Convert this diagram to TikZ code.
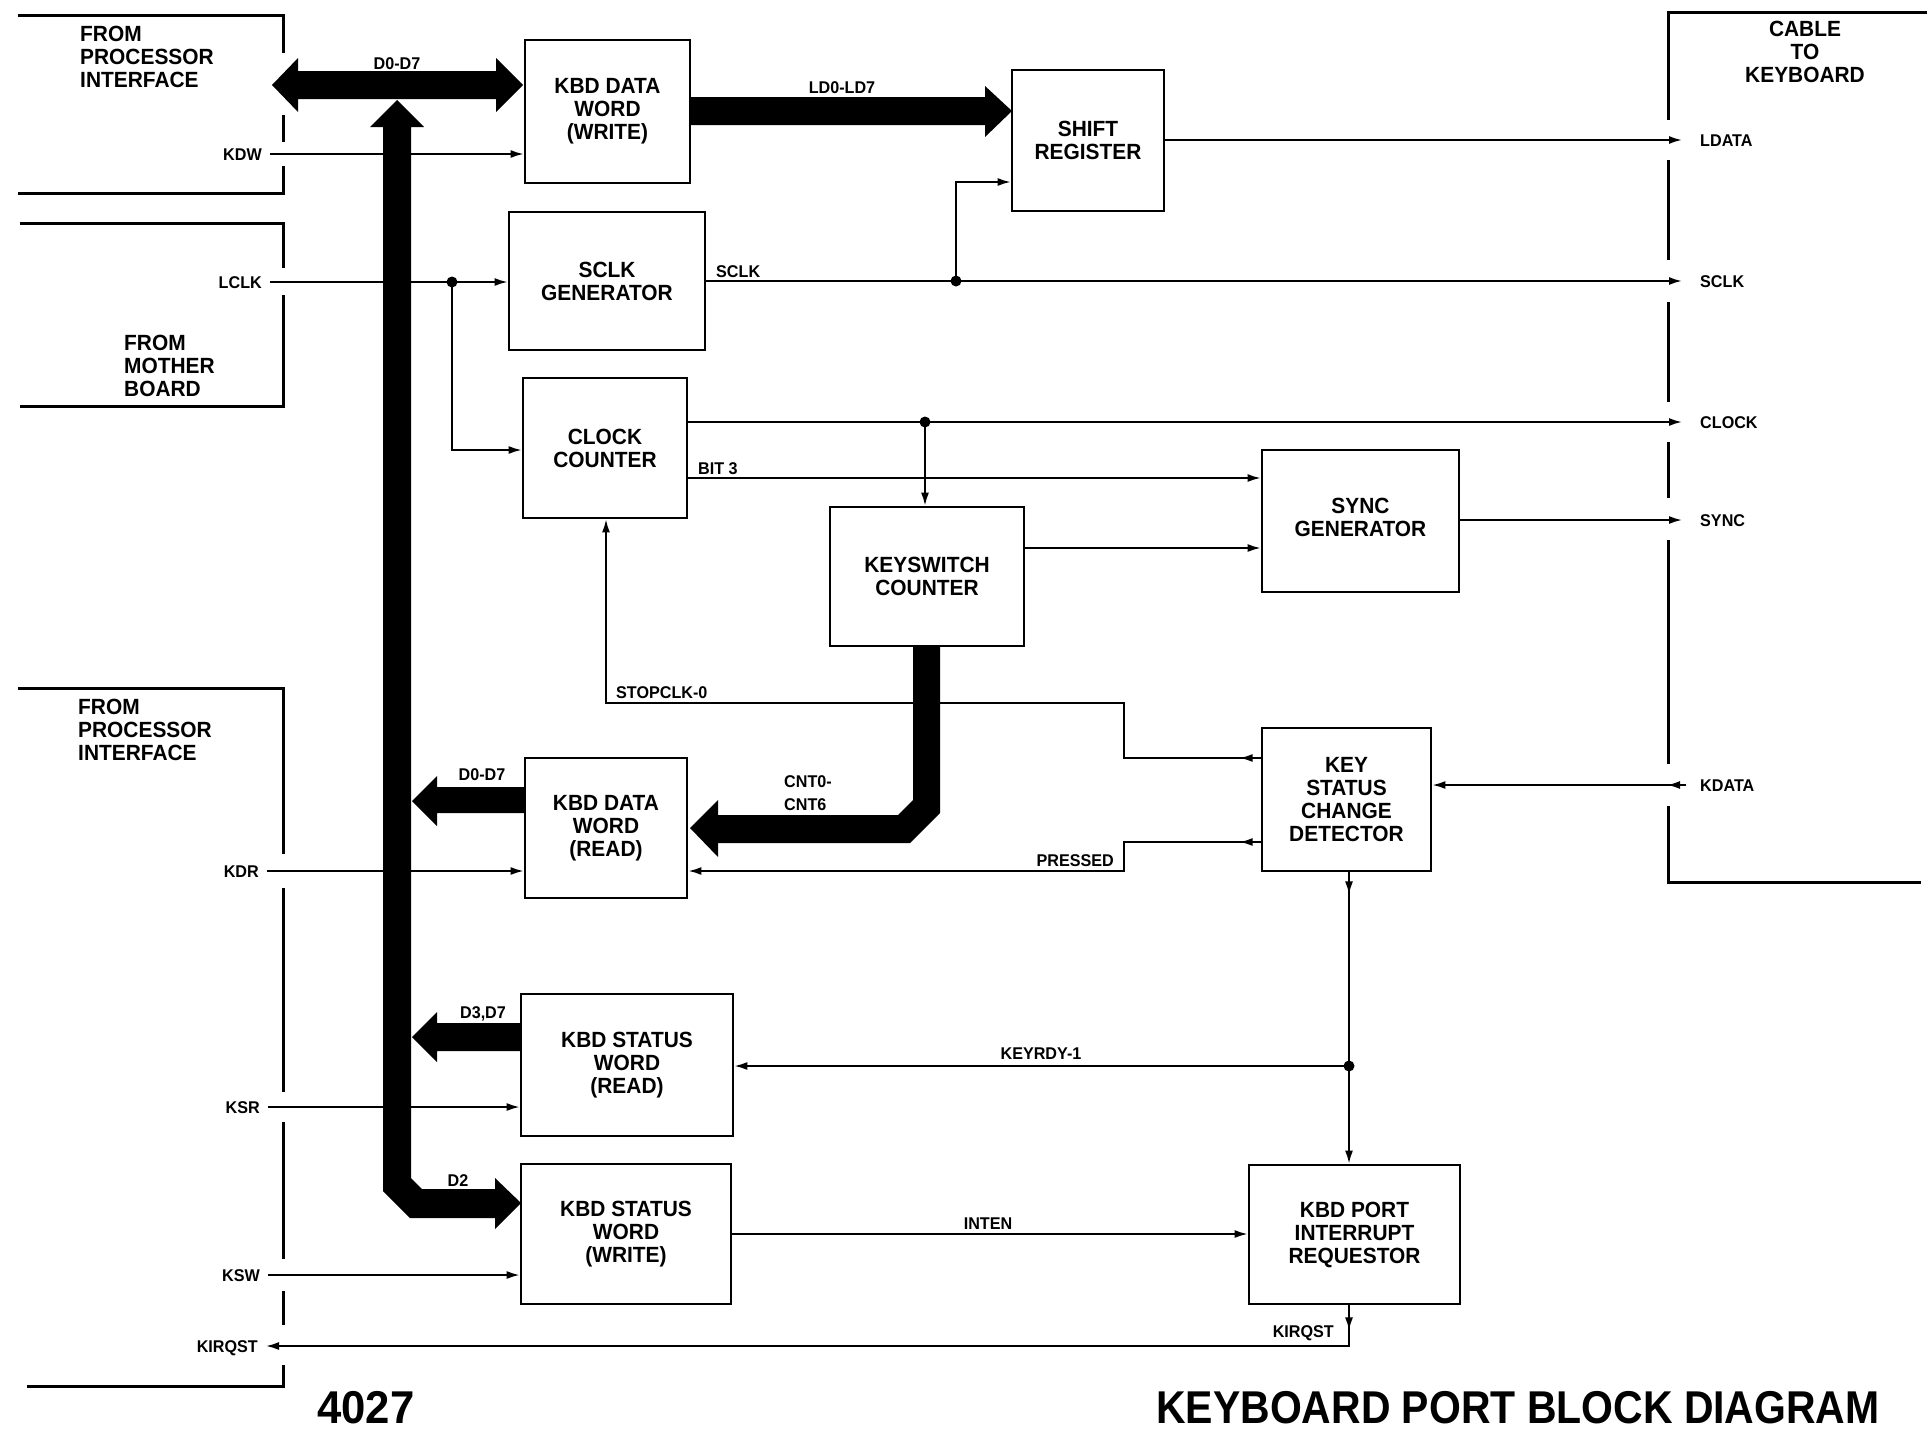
\documentclass[tikz,border=0pt]{standalone}
\usepackage{fontspec}
\setmainfont{Liberation Sans}[FakeStretch=0.95]
\newfontfamily\condfont{Liberation Sans}[FakeStretch=0.89]
\usetikzlibrary{arrows.meta}
\newcommand\boxfont{\fontsize{22}{23}\selectfont\bfseries}
\newcommand\labfont{\fontsize{17}{18}\selectfont\bfseries}
\newcommand\titlefont{\fontsize{46}{50}\selectfont\bfseries}
\newcommand\titlefontc{\condfont\fontsize{46}{50}\selectfont\bfseries}
\begin{document}
\begin{tikzpicture}[x=1pt,y=-1pt,
  blk/.style={draw, line width=2.8pt, align=center, font=\boxfont, inner sep=0pt},
  sig/.style={line width=1.8pt},
  arr/.style={sig, -{Latex[length=13pt,width=8pt]}},
  brk/.style={line width=3pt},
  lab/.style={font=\labfont, inner sep=0pt, text height=12pt, text depth=0pt},
  txt/.style={font=\boxfont, inner sep=0pt, align=left},
  dot/.style={circle, fill=black, inner sep=0pt, minimum size=11pt}
]
\useasboundingbox (0,0) rectangle (1927,1432);
\fill[white] (0,0) rectangle (1927,1432);

% ---------- brackets ----------
\draw[brk] (18,15) -- (283,15) -- (283,53);
\draw[brk] (283,115) -- (283,142);
\draw[brk] (283,166) -- (283,193) -- (18,193);
\draw[brk] (20,223) -- (283,223) -- (283,268);
\draw[brk] (283,295) -- (283,406) -- (20,406);
\draw[brk] (18,688) -- (283,688) -- (283,854);
\draw[brk] (283,888) -- (283,1092);
\draw[brk] (283,1122) -- (283,1259);
\draw[brk] (283,1291) -- (283,1325);
\draw[brk] (283,1365) -- (283,1386) -- (27,1386);
\draw[brk] (1927,12) -- (1668,12) -- (1668,120);
\draw[brk] (1668,160) -- (1668,260);
\draw[brk] (1668,302) -- (1668,402);
\draw[brk] (1668,442) -- (1668,498);
\draw[brk] (1668,540) -- (1668,764);
\draw[brk] (1668,806) -- (1668,882) -- (1921,882);

\node[txt, anchor=west] (tpi1) at (80,57) {FROM\\PROCESSOR\\INTERFACE};
\node[txt, anchor=west] (tmb) at (124,366) {FROM\\MOTHER\\BOARD};
\node[txt, anchor=west] (tpi2) at (78,730) {FROM\\PROCESSOR\\INTERFACE};
\node[txt, align=center] (tck) at (1805,52) {CABLE\\TO\\KEYBOARD};

% ---------- blocks ----------
\node[blk, minimum width=165pt, minimum height=143pt] (wbox) at (607.5,111.5) {KBD DATA\\WORD\\(WRITE)};
\node[blk, minimum width=152pt, minimum height=141pt] (sr) at (1088,140.5) {SHIFT\\REGISTER};
\node[blk, minimum width=196pt, minimum height=138pt] (sg) at (607,281) {SCLK\\GENERATOR};
\node[blk, minimum width=164pt, minimum height=140pt] (cc) at (605,448) {CLOCK\\COUNTER};
\node[blk, minimum width=197pt, minimum height=142pt] (syn) at (1360.5,521) {};
\node[txt, align=center] (syntxt) at ([yshift=4pt]syn.center) {SYNC\\GENERATOR};
\node[blk, minimum width=194pt, minimum height=139pt] (ks) at (927,576.5) {KEYSWITCH\\COUNTER};
\node[blk, minimum width=169pt, minimum height=143pt] (det) at (1346.5,799.5) {KEY\\STATUS\\CHANGE\\DETECTOR};
\node[blk, minimum width=162pt, minimum height=140pt] (rbox) at (606,828) {KBD DATA\\WORD\\(READ)};
\node[blk, minimum width=212pt, minimum height=142pt] (sr2) at (627,1065) {KBD STATUS\\WORD\\(READ)};
\node[blk, minimum width=210pt, minimum height=140pt] (sw) at (626,1234) {KBD STATUS\\WORD\\(WRITE)};
\node[blk, minimum width=211pt, minimum height=139pt] (port) at (1354.5,1234.5) {KBD PORT\\INTERRUPT\\REQUESTOR};

% ---------- left labels and inputs ----------
\node[lab, anchor=east] (lkdw) at (262,154) {KDW};
\node[lab, anchor=east] (llclk) at (262,282) {LCLK};
\node[lab, anchor=east] (lkdr) at (259,871) {KDR};
\node[lab, anchor=east] (lksr) at (260,1107) {KSR};
\node[lab, anchor=east] (lksw) at (260,1275) {KSW};
\node[lab, anchor=east] (lkirq) at (258,1346) {KIRQST};

\draw[arr] ([xshift=8pt]lkdw.east) -- (wbox.west |- lkdw.east);
\draw[arr] ([xshift=8pt]llclk.east) -- (sg.west |- llclk.east);
\draw[arr] ([xshift=8pt]lkdr.east) -- (rbox.west |- lkdr.east);
\draw[arr] ([xshift=8pt]lksr.east) -- (sr2.west |- lksr.east);
\draw[arr] ([xshift=8pt]lksw.east) -- (sw.west |- lksw.east);

% ---------- right labels ----------
\node[lab, anchor=west] (rldata) at (1700,140) {LDATA};
\node[lab, anchor=west] (rsclk) at (1700,281) {SCLK};
\node[lab, anchor=west] (rclock) at (1700,422) {CLOCK};
\node[lab, anchor=west] (rsync) at (1700,520) {SYNC};
\node[lab, anchor=west] (rkdata) at (1700,785) {KDATA};
\coordinate (tldata) at (1682,140);
\coordinate (tsclk) at (1682,281);
\coordinate (tclock) at (1682,422);
\coordinate (tsync) at (1682,520);
\coordinate (kdin) at (1686,785);

% ---------- internal signals ----------
\node[dot] (d1) at (452,282) {};
\draw[arr] (d1.center) -- (452,450) -- (cc.west |- 0,450);

\draw[arr] (sr.east |- tldata) -- (tldata);
\draw[arr] (sg.east |- tsclk) -- (tsclk);
\node[dot] (d2) at (956,281) {};
\draw[arr] (d2.center) -- (956,182) -- (sr.west |- 0,182);
\node[lab, anchor=west] (lsclk) at (716,271) {SCLK};

\draw[arr] (cc.east |- tclock) -- (tclock);
\node[dot] (d3) at (925,422) {};
\draw[arr] (d3.center) -- (ks.north -| d3);

\draw[arr] (cc.east |- 0,478) -- (syn.west |- 0,478);
\node[lab, anchor=west] (lbit) at (698,468) {BIT 3};
\draw[arr] (ks.east |- 0,548) -- (syn.west |- 0,548);
\draw[arr] (syn.east |- tsync) -- (tsync);

\draw[arr] (det.west |- 0,758) -- (1124,758) -- (1124,703) -- (606,703) -- (cc.south -| 606,0);
\draw[arr] (det.west |- 0,758) -- ++(-21,0);
\node[lab, anchor=west] (lstop) at (616,692) {STOPCLK-0};

\draw[arr] (det.west |- 0,842) -- (1124,842) -- (1124,871) -- (rbox.east |- 0,871);
\draw[arr] (det.west |- 0,842) -- ++(-21,0);
\node[lab, anchor=east] (lpress) at (1114,860) {PRESSED};

\draw[arr] (kdin) -- (det.east |- kdin);
\draw[arr] (kdin) -- (1667,785);

\node[dot] (d4) at (1349,1066) {};
\draw[arr] (det.south -| d4) -- (port.north -| d4);
\draw[arr] (det.south -| d4) -- ++(0,22);
\draw[arr] (d4.center) -- (sr2.east |- d4);
\node[lab] (lkeyrdy) at (1041,1053) {KEYRDY-1};

\draw[arr] (sw.east |- 0,1234) -- (port.west |- 0,1234);
\node[lab] (linten) at (988,1223) {INTEN};

\draw[arr] (port.south -| d4) -- (1349,1346) -- ([xshift=8pt]lkirq.east);
\draw[arr] (port.south -| d4) -- ++(0,25);
\node[lab, anchor=east] (lkirq2) at (1334,1331) {KIRQST};

% ---------- buses ----------
\fill (272,85) -- (298,58) -- (298,71) -- (496,71) -- (496,58) -- (523,85) -- (496,112) -- (496,99) -- (298,99) -- (298,112) -- cycle;
\fill (397,100) -- (424,127) -- (411,127) -- (411,1178) -- (422,1189) -- (495,1189) -- (495,1178) -- (521,1203) -- (495,1229) -- (495,1218) -- (410,1218) -- (383,1191) -- (383,127) -- (370,127) -- cycle;
\fill (690,97) -- (985,97) -- (985,86) -- (1012,111) -- (985,137) -- (985,125) -- (690,125) -- cycle;
\fill (525,787) -- (437,787) -- (437,776) -- (412,801) -- (437,826) -- (437,813) -- (525,813) -- cycle;
\fill (521,1023) -- (437,1023) -- (437,1012) -- (412,1037) -- (437,1062) -- (437,1051) -- (521,1051) -- cycle;
\fill (913,646) -- (940,646) -- (940,813) -- (910,843) -- (718,843) -- (718,857) -- (690,828) -- (718,800) -- (718,815) -- (898,815) -- (913,800) -- cycle;

\node[lab] (lbus1) at (397,63) {D0-D7};
\node[lab] (lbus2) at (842,87) {LD0-LD7};
\node[lab] (lbus3) at (482,774) {D0-D7};
\node[lab] (lbus4) at (483,1012) {D3,D7};
\node[lab] (lbus5) at (458,1180) {D2};
\node[lab, anchor=west] (lcnt1) at (784,781) {CNT0-};
\node[lab, anchor=west] (lcnt2) at (784,804) {CNT6};

% ---------- titles ----------
\node[font=\titlefont, inner sep=0pt] (t1) at (366,1408) {4027};
\node[font=\titlefontc, inner sep=0pt] (t2) at (1518,1408) {KEYBOARD PORT BLOCK DIAGRAM};
\end{tikzpicture}
\end{document}
